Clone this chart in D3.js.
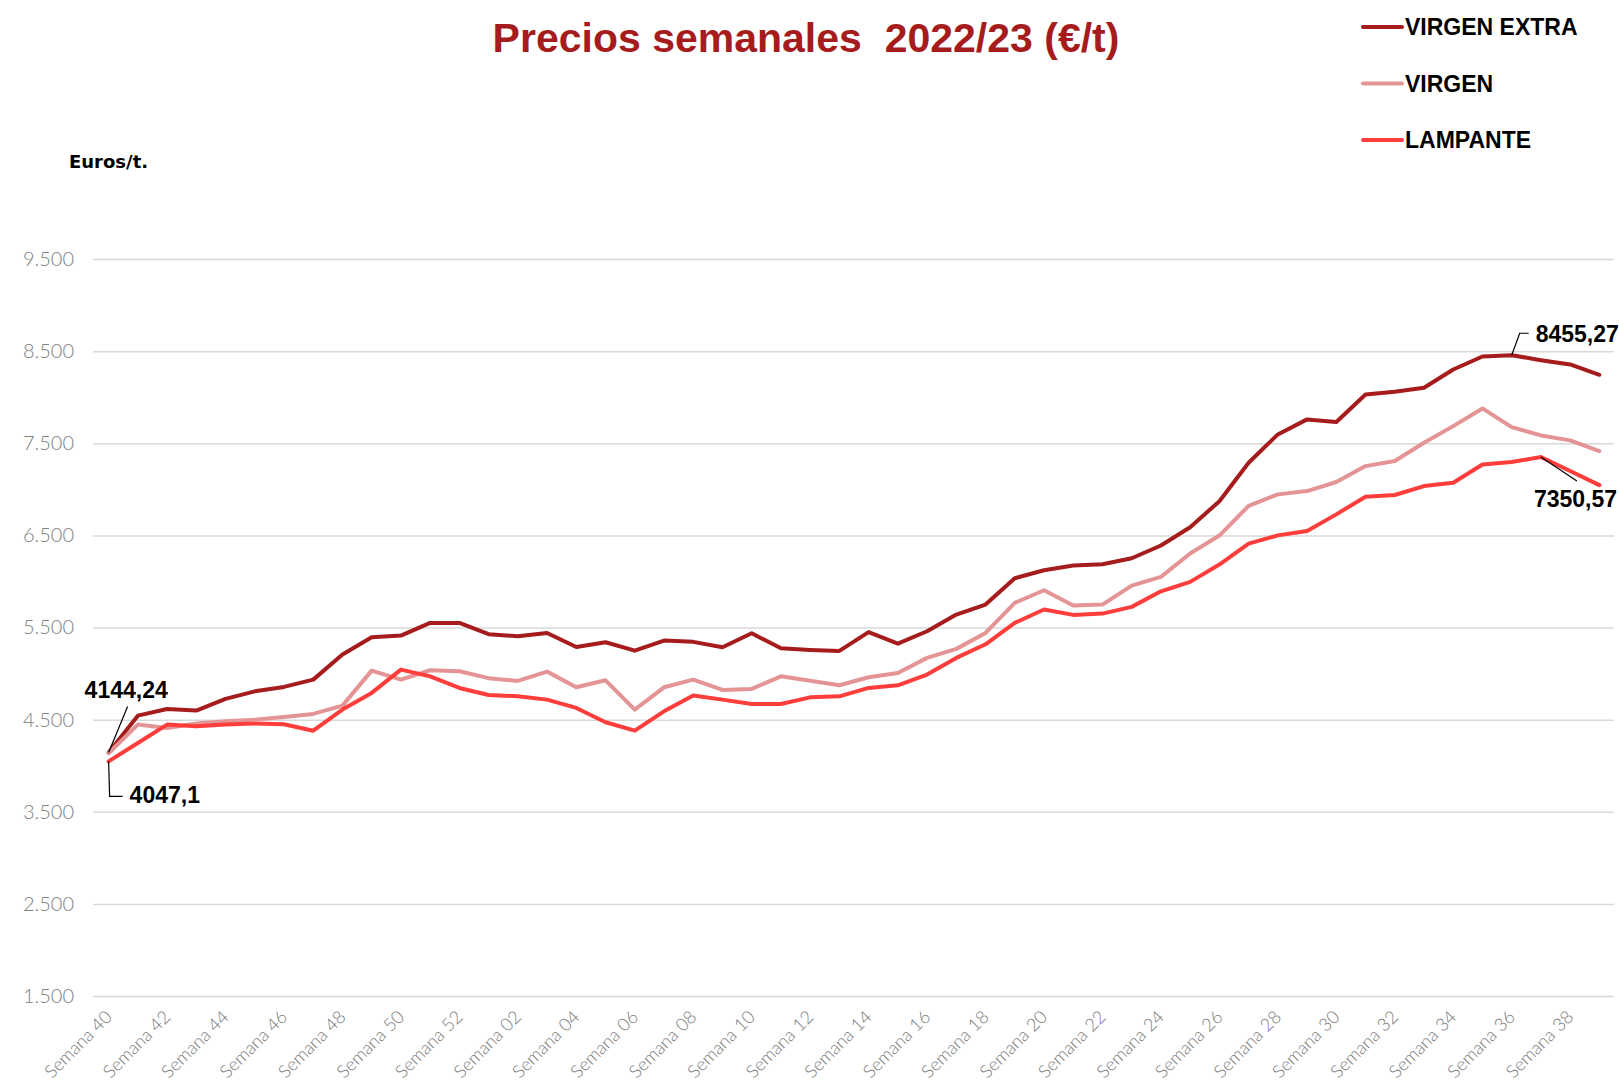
<!DOCTYPE html>
<html>
<head>
<meta charset="utf-8">
<script src="https://cdn.jsdelivr.net/npm/d3@7"></script>
<style>
  body { margin: 0; background: #fff; }
</style>
</head>
<body>
<div id="chart"></div>
<script>
// weeks of the 2022/23 campaign (40..52, 01..39)
var weeks = ["40","41","42","43","44","45","46","47","48","49","50","51","52",
  "01","02","03","04","05","06","07","08","09","10","11","12","13","14","15","16",
  "17","18","19","20","21","22","23","24","25","26","27","28","29","30","31","32",
  "33","34","35","36","37","38","39"];
var weekLabels = weeks.map(function(w) { return "Semana " + w; });

var virgenExtra = [4144.24, 4543, 4616, 4598, 4725, 4807, 4855, 4934, 5206, 5394, 5412, 5550, 5550,
  5428, 5405, 5441, 5289, 5340, 5249, 5358, 5344, 5285, 5437, 5274, 5257, 5246, 5450,
  5325, 5459, 5640, 5749, 6035, 6122, 6172, 6187, 6252, 6390, 6588, 6871,
  7288, 7596, 7759, 7730, 8030, 8059, 8102, 8301, 8442, 8455.27, 8402, 8355, 8243];

var virgen = [4135, 4446, 4410, 4457, 4482, 4500, 4529, 4562, 4652, 5032, 4934, 5036, 5025,
  4950, 4920, 5021, 4851, 4927, 4609, 4851, 4934, 4822, 4833, 4970, 4923, 4873, 4960,
  5007, 5170, 5268, 5441, 5767, 5904, 5738, 5749, 5955, 6050, 6303, 6498,
  6820, 6945, 6981, 7079, 7252, 7307, 7505, 7686, 7878, 7675, 7585, 7531, 7415];

var lampante = [4047.1, 4247, 4446, 4428, 4446, 4457, 4450, 4380, 4609, 4790, 5043, 4970, 4844,
  4768, 4753, 4717, 4627, 4471, 4380, 4590, 4761, 4717, 4670, 4670, 4742, 4753, 4844,
  4873, 4989, 5170, 5318, 5550, 5695, 5637, 5651, 5724, 5893, 5995, 6183,
  6410, 6500, 6547, 6728, 6920, 6938, 7035, 7071, 7270, 7296, 7350.57, 7198, 7046];

var yTicks = [1500, 2500, 3500, 4500, 5500, 6500, 7500, 8500, 9500];
var seriesNames = ["VIRGEN EXTRA", "VIRGEN", "LAMPANTE"];
var seriesColors = ["#a61b1b", "#e49494", "#ff3d3b"];

var svgWidth = 1619;
var svgHeight = 1082;

var svg = d3.select("#chart")
  .append("svg")
  .attr("width", svgWidth)
  .attr("height", svgHeight)
  .style("font-family", "Lato, sans-serif");

// scales
var xScale = d3.scalePoint()
  .domain(weekLabels)
  .range([94, 1614])
  .padding(0.5);

var yScale = d3.scaleLinear()
  .domain([1500, 9500])
  .range([996, 259]);

var fmt = d3.formatLocale({decimal: ",", thousands: ".", grouping: [3], currency: ["", "€"]}).format(",d");

// y axis + gridlines
var yAxis = d3.axisLeft(yScale)
  .tickValues(yTicks)
  .tickSize(-(1614 - 93))
  .tickPadding(19)
  .tickFormat(fmt);

var yG = svg.append("g")
  .attr("transform", "translate(93,0)")
  .call(yAxis);
yG.select(".domain").remove();
yG.selectAll(".tick line").attr("stroke", "#d9d9d9").attr("stroke-width", 1.5);
yG.selectAll(".tick text")
  .attr("fill", "#808080")
  .style("font-size", "20px")
  .style("font-weight", 300)
  .style("font-family", "Lato, sans-serif");

// x axis labels (every other week)
var xAxis = d3.axisBottom(xScale)
  .tickValues(weekLabels.filter(function(d, i) { return i % 2 == 0; }))
  .tickSize(0);

var xG = svg.append("g")
  .attr("transform", "translate(0,996)")
  .call(xAxis);
xG.select(".domain").remove();
xG.selectAll(".tick text")
  .attr("fill", "#7a7a7a")
  .style("font-size", "18px")
  .style("font-weight", 300)
  .style("font-family", "Lato, sans-serif")
  .attr("text-anchor", "end")
  .attr("dy", null)
  .attr("y", 0)
  .attr("transform", "translate(4,22) rotate(-45)");

// lines
var line = d3.line()
  .x(function(d, i) { return xScale(weekLabels[i]); })
  .y(function(d) { return yScale(d); });

[virgenExtra, virgen, lampante].forEach(function(s, k) {
  svg.append("path")
    .datum(s)
    .attr("fill", "none")
    .attr("stroke", seriesColors[k])
    .attr("stroke-width", 4)
    .attr("stroke-linejoin", "round")
    .attr("stroke-linecap", "round")
    .attr("d", line);
});

// annotations
var annFont = "'Liberation Sans', Arial, sans-serif";
function fmtDec(v) { return String(v).replace(".", ","); }
function annotate(series, idx, pts, tx, ty) {
  var px = xScale(weekLabels[idx]), py = yScale(series[idx]);
  var path = d3.path();
  path.moveTo(px, py);
  pts.forEach(function(p) { path.lineTo(px + p[0], py + p[1]); });
  svg.append("path")
    .attr("d", path.toString())
    .attr("fill", "none")
    .attr("stroke", "#000")
    .attr("stroke-width", 1.2);
  svg.append("text")
    .attr("x", px + tx)
    .attr("y", py + ty)
    .attr("fill", "#000")
    .style("font-family", annFont)
    .style("font-weight", "bold")
    .style("font-size", "23px")
    .text(fmtDec(series[idx]));
}

annotate(virgenExtra, 0, [[19, -46]], -24, -54);
annotate(lampante, 0, [[1, 35], [14, 35]], 21, 42);
annotate(virgenExtra, 48, [[8, -22], [17, -22]], 24, -13);
annotate(lampante, 49, [[36, 24]], -7, 50);

// title
svg.append("text")
  .attr("x", 806)
  .attr("y", 52)
  .attr("text-anchor", "middle")
  .attr("fill", "#a61c1c")
  .style("font-family", annFont)
  .style("font-weight", "bold")
  .style("font-size", "41px")
  .style("white-space", "pre")
  .text("Precios semanales  2022/23 (€/t)");

// y unit
svg.append("text")
  .attr("x", 69)
  .attr("y", 168)
  .attr("fill", "#000")
  .style("font-family", "'DejaVu Sans', sans-serif")
  .style("font-weight", "bold")
  .style("font-size", "18px")
  .text("Euros/t.");

// legend
var legend = svg.append("g");
seriesNames.forEach(function(name, k) {
  var cy = 27 + k * 56.5;
  legend.append("line")
    .attr("x1", 1363).attr("x2", 1402)
    .attr("y1", cy).attr("y2", cy)
    .attr("stroke", seriesColors[k])
    .attr("stroke-width", 4)
    .attr("stroke-linecap", "round");
  legend.append("text")
    .attr("x", 1405)
    .attr("y", cy + 8)
    .attr("fill", "#000")
    .style("font-family", annFont)
    .style("font-weight", "bold")
    .style("font-size", "23px")
    .text(name);
});
</script>
</body>
</html>
